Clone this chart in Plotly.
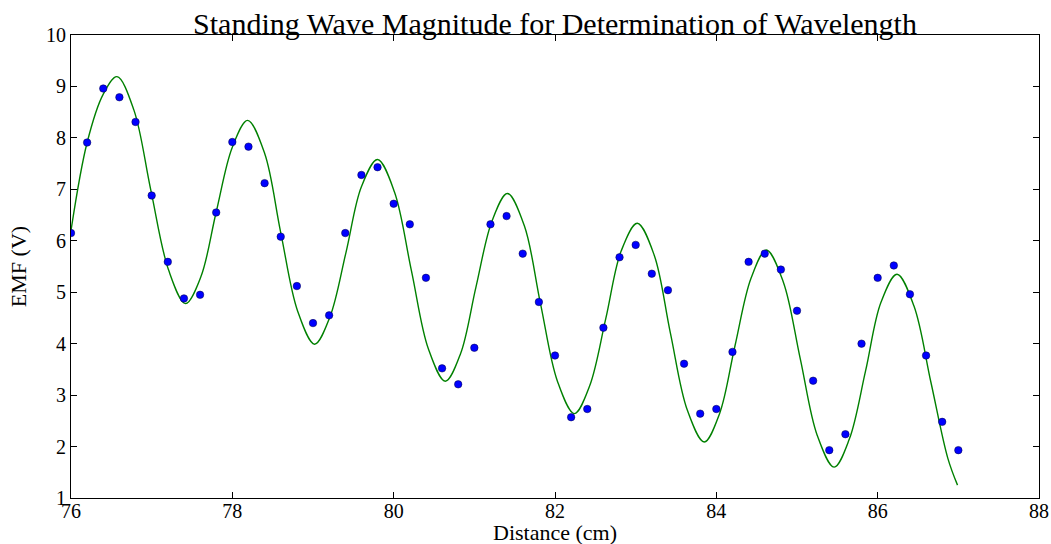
import plotly.graph_objects as go

# Measured data (distance in cm, EMF in V)
distance = [76.0, 76.2, 76.4, 76.6, 76.8, 77.0, 77.2, 77.4, 77.6, 77.8,
            78.0, 78.2, 78.4, 78.6, 78.8, 79.0, 79.2, 79.4, 79.6, 79.8,
            80.0, 80.2, 80.4, 80.6, 80.8, 81.0, 81.2, 81.4, 81.6, 81.8,
            82.0, 82.2, 82.4, 82.6, 82.8, 83.0, 83.2, 83.4, 83.6, 83.8,
            84.0, 84.2, 84.4, 84.6, 84.8, 85.0, 85.2, 85.4, 85.6, 85.8,
            86.0, 86.2, 86.4, 86.6, 86.8, 87.0]
emf = [6.15, 7.91, 8.96, 8.79, 8.31, 6.88, 5.59, 4.88, 4.95, 6.55,
       7.92, 7.83, 7.12, 6.08, 5.12, 4.40, 4.55, 6.15, 7.28, 7.43,
       6.72, 6.32, 5.28, 3.52, 3.21, 3.92, 6.32, 6.48, 5.75, 4.81,
       3.77, 2.57, 2.73, 4.31, 5.68, 5.92, 5.36, 5.04, 3.61, 2.64,
       2.73, 3.84, 5.59, 5.75, 5.44, 4.64, 3.28, 1.93, 2.24, 4.00,
       5.28, 5.52, 4.96, 3.77, 2.48, 1.93]

# Fitted curve, points
fit_x = [76.00, 76.20, 76.40, 76.57,
         76.78, 76.99, 77.21, 77.42,
         77.61, 77.80, 78.00, 78.19,
         78.40, 78.60, 78.81, 79.02,
         79.21, 79.41, 79.60, 79.80,
         80.01, 80.22, 80.43, 80.64,
         80.83, 81.02, 81.22, 81.41,
         81.62, 81.82, 82.03, 82.24,
         82.43, 82.63, 82.82, 83.02,
         83.23, 83.43, 83.64, 83.85,
         84.04, 84.23, 84.43, 84.62,
         84.83, 85.04, 85.25, 85.46,
         85.65, 85.85, 86.04, 86.24,
         86.45, 86.66, 86.87, 86.99]
fit_y = [6.20, 7.91, 8.85, 9.19,
         8.54, 6.98, 5.43, 4.78,
         5.30, 6.56, 7.82, 8.34,
         7.70, 6.16, 4.63, 3.99,
         4.52, 5.78, 7.05, 7.58,
         6.95, 5.42, 3.90, 3.27,
         3.81, 5.10, 6.39, 6.92,
         6.29, 4.78, 3.27, 2.64,
         3.18, 4.49, 5.80, 6.34,
         5.72, 4.21, 2.71, 2.09,
         2.64, 3.95, 5.27, 5.82,
         5.20, 3.71, 2.22, 1.60,
         2.15, 3.47, 4.80, 5.35,
         4.73, 3.25, 1.77, 1.25]

x_ticks = [76, 78, 80, 82, 84, 86, 88]
y_ticks = [1, 2, 3, 4, 5, 6, 7, 8, 9, 10]

SERIF = "Liberation Serif, Times New Roman, serif"

fig = go.Figure()
fig.add_trace(go.Scatter(
    x=fit_x, y=fit_y, mode="lines",
    line=dict(color="#008000", width=1.4, shape="spline", smoothing=1.0),
    hoverinfo="skip", showlegend=False))
fig.add_trace(go.Scatter(
    x=distance, y=emf, mode="markers",
    marker=dict(color="#0000ff", size=7.5, line=dict(color="#000040", width=0.5)),
    showlegend=False))

axis_common = dict(
    showgrid=False, zeroline=False, showline=True, linecolor="black",
    linewidth=1, mirror="ticks", ticks="inside", ticklen=6, tickcolor="black",
    automargin=False,
    tickfont=dict(family=SERIF, size=20, color="black"))

fig.update_xaxes(range=[76, 88], tickvals=x_ticks, ticktext=[str(v) for v in x_ticks],
                 ticklabelstandoff=-5,
                 **axis_common)
fig.update_yaxes(range=[1, 10], tickvals=y_ticks, ticktext=[str(v) for v in y_ticks],
                 title=dict(text="EMF (V)", font=dict(family=SERIF, size=22, color="black"),
                            standoff=13),
                 **axis_common)

# x-axis title placed just below the tick labels, at the bottom edge of the page
fig.add_annotation(
    text="Distance (cm)", x=0.5, xref="paper", y=0, yref="paper",
    xanchor="center", yanchor="top", yshift=-20, showarrow=False,
    font=dict(family=SERIF, size=22, color="black"))

fig.update_layout(
    width=1051, height=544,
    margin=dict(l=71, r=12, t=35, b=46, pad=0),
    paper_bgcolor="white", plot_bgcolor="white",
    title=dict(text="Standing Wave Magnitude for Determination of Wavelength",
               font=dict(family=SERIF, size=30, color="black"),
               x=0.5, xref="paper", xanchor="center",
               y=1, yref="paper", yanchor="bottom", pad=dict(b=1)),
)

fig.write_html("out.html")
